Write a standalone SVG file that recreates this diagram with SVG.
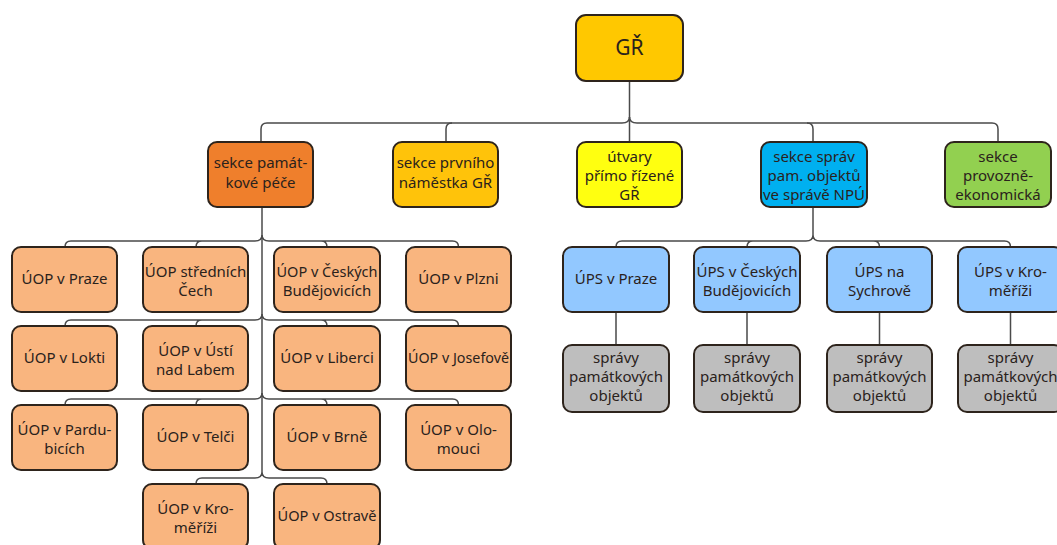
<svg xmlns="http://www.w3.org/2000/svg" width="1057" height="545" viewBox="0 0 1057 545">
<style>
.b{stroke:#2e241c;stroke-width:2}
.t{font-family:"Noto Sans","Open Sans",sans-serif;font-size:15px;fill:#2a221c;text-anchor:middle}
.c{fill:none;stroke:#4a4a4a;stroke-width:1.5}
.gr{fill:#FFC800}.or{fill:#EF7F2C}.go{fill:#FFC30A}.ye{fill:#FFFF10}.bl{fill:#00B0F0}.gn{fill:#92D050}
.pe{fill:#F9B57F}.lb{fill:#92C8FF}.gy{fill:#BEBEBE}
</style>
<rect width="1057" height="545" fill="#fff"/>
<g id="connectors" class="c">
<path d="M629.5,81V142"/>
<path d="M629.5,117Q629.5,123 622,123H267Q261,123 261,129V142"/>
<path d="M452,123Q446,123 446,129V142"/>
<path d="M629.5,117Q629.5,123 637,123H992Q998,123 998,129V142"/>
<path d="M807,123Q813,123 813,129V142"/>
<path d="M262,207V472"/>
<path d="M262,235Q262,241 255,241H71Q65,241 65,247M202,241Q196,241 196,247M262,235Q262,241 269,241H452.5Q458.5,241 458.5,247M321,241Q327,241 327,247"/>
<path d="M262,314Q262,320 255,320H71Q65,320 65,326M202,320Q196,320 196,326M262,314Q262,320 269,320H452.5Q458.5,320 458.5,326M321,320Q327,320 327,326"/>
<path d="M262,393Q262,399 255,399H71Q65,399 65,405M202,399Q196,399 196,405M262,393Q262,399 269,399H452.5Q458.5,399 458.5,405M321,399Q327,399 327,405"/>
<path d="M262,472Q262,478 255,478H202Q196,478 196,484M262,472Q262,478 269,478H321Q327,478 327,484"/>
<path d="M813,207V235"/>
<path d="M813,235Q813,241 806,241H622Q616,241 616,247M753,241Q747,241 747,247M813,235Q813,241 820,241H1004.5Q1010.5,241 1010.5,247M873.5,241Q879.5,241 879.5,247"/>
<path d="M616,312V345M747,312V345M879.5,312V345M1010.5,312V345"/>
</g>
<g id="n-gr"><rect class="b gr" x="576" y="15" width="107" height="66" rx="10"/><text class="t" x="629.5" y="55" style="font-size:21px">GŘ</text></g>
<g id="n-spp"><rect class="b or" x="208" y="142" width="105" height="65" rx="9"/><text class="t" x="260.5" y="168">sekce památ-</text><text class="t" x="260.5" y="188">kové péče</text></g>
<g id="n-spn"><rect class="b go" x="393" y="142" width="105" height="65" rx="9"/><text class="t" x="445.5" y="168">sekce prvního</text><text class="t" x="445.5" y="188">náměstka GŘ</text></g>
<g id="n-utv"><rect class="b ye" x="577" y="142" width="105" height="65" rx="9"/><text class="t" x="629.5" y="162">útvary</text><text class="t" x="629.5" y="181">přímo řízené</text><text class="t" x="629.5" y="200">GŘ</text></g>
<g id="n-ssp"><rect class="b bl" x="761" y="142" width="106" height="65" rx="9"/><text class="t" x="814" y="162">sekce správ</text><text class="t" x="814" y="181">pam. objektů</text><text class="t" x="814" y="200" textLength="102" lengthAdjust="spacingAndGlyphs">ve správě NPÚ</text></g>
<g id="n-spe"><rect class="b gn" x="945" y="142" width="106" height="65" rx="9"/><text class="t" x="998" y="162">sekce</text><text class="t" x="998" y="181">provozně-</text><text class="t" x="998" y="200">ekonomická</text></g>
<g id="n-praha"><rect class="b pe" x="12" y="247" width="105" height="65" rx="9"/><text class="t" x="64.5" y="284">ÚOP v Praze</text></g>
<g id="n-stc"><rect class="b pe" x="143" y="247" width="105" height="65" rx="9"/><text class="t" x="195.5" y="277">ÚOP středních</text><text class="t" x="195.5" y="296">Čech</text></g>
<g id="n-cb"><rect class="b pe" x="274" y="247" width="106" height="65" rx="9"/><text class="t" x="327" y="277" textLength="101" lengthAdjust="spacingAndGlyphs">ÚOP v Českých</text><text class="t" x="327" y="296">Budějovicích</text></g>
<g id="n-plzen"><rect class="b pe" x="406" y="247" width="105" height="65" rx="9"/><text class="t" x="458.5" y="284">ÚOP v Plzni</text></g>
<g id="n-loket"><rect class="b pe" x="12" y="326" width="105" height="65" rx="9"/><text class="t" x="64.5" y="363">ÚOP v Lokti</text></g>
<g id="n-usti"><rect class="b pe" x="143" y="326" width="105" height="65" rx="9"/><text class="t" x="195.5" y="356">ÚOP v Ústí</text><text class="t" x="195.5" y="375">nad Labem</text></g>
<g id="n-liberec"><rect class="b pe" x="274" y="326" width="106" height="65" rx="9"/><text class="t" x="327" y="363">ÚOP v Liberci</text></g>
<g id="n-josefov"><rect class="b pe" x="406" y="326" width="105" height="65" rx="9"/><text class="t" x="458.5" y="363" textLength="101" lengthAdjust="spacingAndGlyphs">ÚOP v Josefově</text></g>
<g id="n-pardubice"><rect class="b pe" x="12" y="405" width="105" height="65" rx="9"/><text class="t" x="64.5" y="435">ÚOP v Pardu-</text><text class="t" x="64.5" y="454">bicích</text></g>
<g id="n-telc"><rect class="b pe" x="143" y="405" width="105" height="65" rx="9"/><text class="t" x="195.5" y="442">ÚOP v Telči</text></g>
<g id="n-brno"><rect class="b pe" x="274" y="405" width="106" height="65" rx="9"/><text class="t" x="327" y="442">ÚOP v Brně</text></g>
<g id="n-olomouc"><rect class="b pe" x="406" y="405" width="105" height="65" rx="9"/><text class="t" x="458.5" y="435">ÚOP v Olo-</text><text class="t" x="458.5" y="454">mouci</text></g>
<g id="n-kromeriz"><rect class="b pe" x="143" y="484" width="105" height="65" rx="9"/><text class="t" x="195.5" y="514">ÚOP v Kro-</text><text class="t" x="195.5" y="533">měříži</text></g>
<g id="n-ostrava"><rect class="b pe" x="274" y="484" width="106" height="65" rx="9"/><text class="t" x="327" y="521" textLength="99" lengthAdjust="spacingAndGlyphs">ÚOP v Ostravě</text></g>
<g id="n-ups-praha"><rect class="b lb" x="563" y="247" width="106" height="65" rx="9"/><text class="t" x="616" y="284">ÚPS v Praze</text></g>
<g id="n-ups-cb"><rect class="b lb" x="694" y="247" width="106" height="65" rx="9"/><text class="t" x="747" y="277" textLength="101" lengthAdjust="spacingAndGlyphs">ÚPS v Českých</text><text class="t" x="747" y="296">Budějovicích</text></g>
<g id="n-ups-sych"><rect class="b lb" x="827" y="247" width="105" height="65" rx="9"/><text class="t" x="879.5" y="277">ÚPS na</text><text class="t" x="879.5" y="296">Sychrově</text></g>
<g id="n-ups-krom"><rect class="b lb" x="958" y="247" width="105" height="65" rx="9"/><text class="t" x="1010.5" y="277">ÚPS v Kro-</text><text class="t" x="1010.5" y="296">měříži</text></g>
<g id="n-spo1"><rect class="b gy" x="563" y="345" width="106" height="67" rx="9"/><text class="t" x="616" y="363">správy</text><text class="t" x="616" y="382">památkových</text><text class="t" x="616" y="401">objektů</text></g>
<g id="n-spo2"><rect class="b gy" x="694" y="345" width="106" height="67" rx="9"/><text class="t" x="747" y="363">správy</text><text class="t" x="747" y="382">památkových</text><text class="t" x="747" y="401">objektů</text></g>
<g id="n-spo3"><rect class="b gy" x="827" y="345" width="105" height="67" rx="9"/><text class="t" x="879.5" y="363">správy</text><text class="t" x="879.5" y="382">památkových</text><text class="t" x="879.5" y="401">objektů</text></g>
<g id="n-spo4"><rect class="b gy" x="958" y="345" width="105" height="67" rx="9"/><text class="t" x="1010.5" y="363">správy</text><text class="t" x="1010.5" y="382">památkových</text><text class="t" x="1010.5" y="401">objektů</text></g>
</svg>
